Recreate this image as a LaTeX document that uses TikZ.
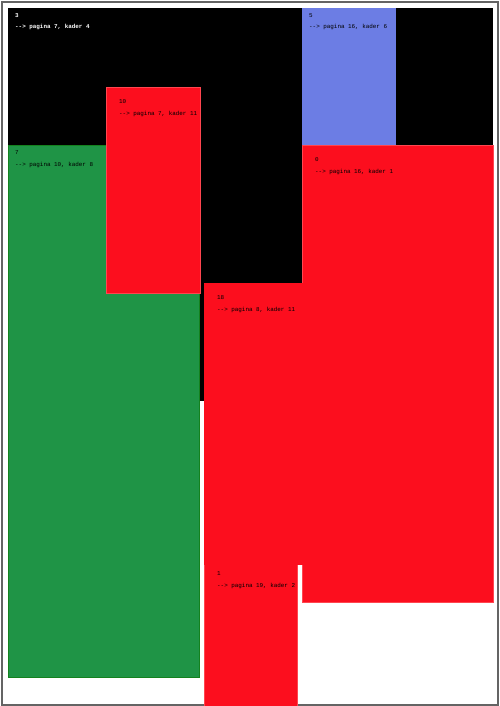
\documentclass[tikz,border=0pt]{standalone}
\usepackage{fontspec}
\newfontfamily\kaderfont{Liberation Mono}
\usetikzlibrary{positioning,calc}
\definecolor{kaderred}{RGB}{252,14,30}
\definecolor{kaderredline}{RGB}{255,70,80}
\definecolor{kadergreen}{RGB}{31,148,70}
\definecolor{kadergreenline}{RGB}{20,130,30}
\definecolor{kaderblue}{RGB}{108,125,228}
\definecolor{framegray}{RGB}{100,100,100}

\tikzset{
    lbl/.style={anchor=west, inner sep=0pt, font=\kaderfont\fontsize{5.9}{7}\selectfont},
    redbox/.style={fill=kaderred, draw=kaderredline, line width=0.8pt},
}

\begin{document}
\begin{tikzpicture}[x=1pt, y=-1pt]

    \useasboundingbox (0,0) rectangle (500,706);

    % page frame
    \draw[framegray, line width=1.5pt] (2,2) rectangle (498,705);

    % kader 3 (black)
    \fill[black] (8,8) rectangle (493,401);
    \node[lbl, white] (n3) at (15,16) {\textbf{3}};
    \node[lbl, white] (l3) at (15,27) {\textbf{--> pagina 7, kader 4}};

    % kader 5 (blue)
    \fill[kaderblue] (302,8) rectangle (396,145);
    \node[lbl] (n5) at (309,16) {5};
    \node[lbl] (l5) at (309,27) {--> pagina 16, kader 6};

    % kader 7 (green)
    \filldraw[fill=kadergreen, draw=kadergreenline, line width=0.8pt] (8,145) rectangle (199,677);
    \node[lbl] (n7) at (15,153) {7};
    \node[lbl] (l7) at (15,165) {--> pagina 10, kader 8};

    % kader 10 (red)
    \filldraw[redbox] (106,87) rectangle (200,293);
    \node[lbl] (n10) at (119,102) {10};
    \node[lbl] (l10) at (119,114) {--> pagina 7, kader 11};

    % kader 0 (red)
    \filldraw[redbox] (302,145) rectangle (493,602);
    \node[lbl] (n0) at (315,160) {0};
    \node[lbl] (l0) at (315,172) {--> pagina 16, kader 1};

    % kader 1 (red)
    \filldraw[redbox] (204,560) rectangle (297,707);
    \node[lbl] (n1) at (217,574) {1};
    \node[lbl] (l1) at (217,586) {--> pagina 19, kader 2};

    % kader 18 (red)
    \fill[kaderred] (204,283) rectangle (340,565);
    \node[lbl] (n18) at (217,298) {18};
    \node[lbl] (l18) at (217,310) {--> pagina 8, kader 11};

\end{tikzpicture}
\end{document}
